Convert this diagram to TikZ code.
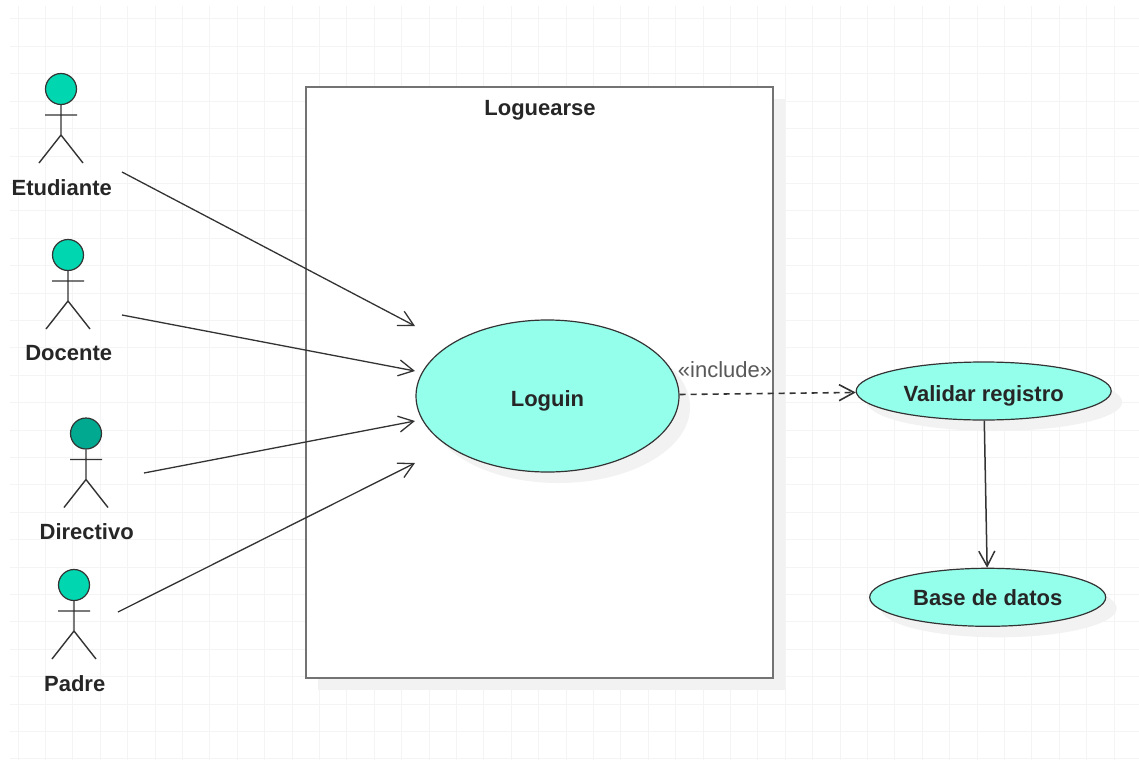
\documentclass[tikz,border=0pt]{standalone}
\usepackage{fontspec}
\setmainfont{Liberation Sans}
\usetikzlibrary{arrows.meta,shadows,shapes.geometric}
\definecolor{headc}{HTML}{00D6B0}
\definecolor{headd}{HTML}{00A98F}
\definecolor{casec}{HTML}{94FFEB}
\definecolor{gridc}{HTML}{F4F4F4}
\definecolor{shadc}{HTML}{F2F2F2}
\definecolor{linec}{HTML}{333333}
\begin{document}
\begin{tikzpicture}[x=1pt,y=-1pt,
	head/.append style={draw=linec,circle,line width=1.2pt,inner sep=0pt,minimum size=31pt},
	stick/.append style={line width=1.4pt,color=linec},
	rotulo/.append style={font=\fontsize{22}{24}\selectfont\bfseries,text=black!85},
	usecase/.append style={draw=linec,ellipse,fill=casec,line width=1.2pt,inner sep=0pt,font=\fontsize{22}{24}\selectfont\bfseries,text=black!85,
		drop shadow={shadow xshift=11pt,shadow yshift=-11pt,fill=shadc,opacity=1}},
	a/.append style={->,>={Straight Barb[length=15pt,width=16pt]},line width=1.3pt,color=linec}]
\useasboundingbox (0,0) rectangle (1139,760);
\fill[white] (0,0) rectangle (1139,760);
% grid
\foreach \i in {0,...,40} \draw[gridc,line width=1pt] (18+27.4*\i,6) -- (18+27.4*\i,760);
\foreach \i in {0,...,27} \draw[gridc,line width=1pt] (10,19+27.4*\i) -- (1139,19+27.4*\i);
% system box
\node[draw=black!55,line width=2.4pt,fill=white,minimum width=467pt,minimum height=591pt,inner sep=0pt,
	drop shadow={shadow xshift=12pt,shadow yshift=-12pt,fill=shadc,opacity=1}] (sistema) at (539.5,382.5) {};
\node[rotulo] (titulo) at (540,110) {Loguearse};
% actors
\foreach \n/\x/\y/\c/\t in {etudiante/61/89/headc/Etudiante,docente/68/255/headc/Docente,directivo/86/433.5/headd/Directivo,padre/74/585/headc/Padre}{
	\node[head,fill=\c] (\n) at (\x,\y) {};
	\node[rotulo] (\n-rotulo) at (\x+.7,\y+98.5) {\t};
	\draw[stick] (\n.south) -- (\x,\y+46) (\x-16,\y+26) -- (\x+16,\y+26) (\x-22,\y+74) -- (\x,\y+46) -- (\x+22,\y+74);
}
% use cases
\node[usecase,minimum width=263pt,minimum height=152pt,text height=26pt,text depth=6pt] (loguin) at (547.5,396) {Loguin};
\node[usecase,minimum width=255pt,minimum height=58pt,text height=26pt,text depth=6pt] (validar) at (983.7,391) {Validar registro};
\node[usecase,minimum width=236pt,minimum height=58pt] (base) at (987.7,597.3) {Base de datos};
% free ends
\coordinate (s1) at (122,172);
\coordinate (s2) at (122,315);
\coordinate (s3) at (144,473);
\coordinate (s4) at (118,612);
\coordinate (t1) at (415,326);
\coordinate (t2) at (415,371);
\coordinate (t3) at (415,421);
\coordinate (t4) at (415,463);
\draw[a] (s1) -- (t1);
\draw[a] (s2) -- (t2);
\draw[a] (s3) -- (t3);
\draw[a] (s4) -- (t4);
\draw[a,line width=1.6pt,dash pattern=on 6pt off 5pt] (loguin) -- (validar);
\draw[a,line width=1.5pt] (validar) -- (base);
\node[font=\fontsize{22}{24}\selectfont,text=black!65] (include) at (725,370) {«include»};
\end{tikzpicture}
\end{document}
